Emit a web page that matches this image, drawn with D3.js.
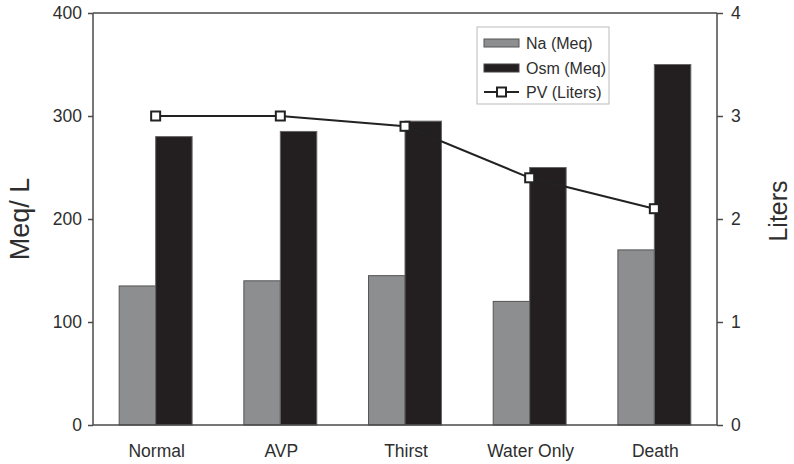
<!DOCTYPE html>
<html>
<head>
<meta charset="utf-8">
<script src="https://cdn.jsdelivr.net/npm/d3@7"></script>
<style>
  html, body { margin: 0; padding: 0; background: #fff; }
  svg { display: block; font-family: "Liberation Sans", Arial, sans-serif; }
</style>
</head>
<body>
<svg id="chart" width="794" height="464"></svg>
<script>
const categories = ["Normal", "AVP", "Thirst", "Water Only", "Death"];
const naValues = [135, 140, 145, 120, 170];
const osmValues = [280, 285, 295, 250, 350];
const pvValues = [3.0, 3.0, 2.9, 2.4, 2.1];
const leftTicks = [0, 100, 200, 300, 400];
const rightTicks = [0, 1, 2, 3, 4];
const seriesNames = ["Na (Meq)", "Osm (Meq)", "PV (Liters)"];

const svg = d3.select("#chart");
const m = { left: 93, right: 717, top: 13, bottom: 425 };

const x = d3.scaleBand().domain(categories).range([m.left, m.right])
  .paddingInner(0.415).paddingOuter(0.21);
const yL = d3.scaleLinear().domain([0, 400]).range([m.bottom, m.top]);
const yR = d3.scaleLinear().domain([0, 4]).range([m.bottom, m.top]);

const naFill = "#8d8e90", osmFill = "#231f20", axisCol = "#4a4a4a", textCol = "#2e2e2e";

// bars
const bw = x.bandwidth() / 2;
svg.append("g").selectAll("rect").data(categories).join("rect")
  .attr("x", d => x(d)).attr("width", bw)
  .attr("y", (d, i) => yL(naValues[i])).attr("height", (d, i) => yL(0) - yL(naValues[i]))
  .attr("fill", naFill).attr("stroke", "#555").attr("stroke-width", 1);
svg.append("g").selectAll("rect").data(categories).join("rect")
  .attr("x", d => x(d) + bw).attr("width", bw)
  .attr("y", (d, i) => yL(osmValues[i])).attr("height", (d, i) => yL(0) - yL(osmValues[i]))
  .attr("fill", osmFill).attr("stroke", "#666").attr("stroke-width", 1);

// axes
const gL = svg.append("g").attr("transform", `translate(${m.left},0)`)
  .call(d3.axisLeft(yL).tickValues(leftTicks).tickFormat(d3.format("d")).tickSize(5).tickPadding(6));
const gR = svg.append("g").attr("transform", `translate(${m.right},0)`)
  .call(d3.axisRight(yR).tickValues(rightTicks).tickFormat(d3.format("d")).tickSize(6).tickPadding(8));
[gL, gR].forEach(g => {
  g.select(".domain").attr("stroke", axisCol).attr("stroke-width", 1.5).attr("d",
    `M0,${m.top}V${m.bottom}`);
  g.selectAll(".tick line").attr("stroke", axisCol).attr("stroke-width", 1.5);
  g.selectAll(".tick text").attr("fill", textCol).attr("font-size", 17.5)
    .attr("font-family", "Liberation Sans, Arial, sans-serif");
});
// top & bottom frame
svg.append("line").attr("x1", m.left).attr("x2", m.right).attr("y1", m.top).attr("y2", m.top)
  .attr("stroke", axisCol).attr("stroke-width", 1.5);
svg.append("line").attr("x1", m.left).attr("x2", m.right).attr("y1", m.bottom).attr("y2", m.bottom)
  .attr("stroke", axisCol).attr("stroke-width", 1.5);

// category labels
svg.append("g").selectAll("text").data(categories).join("text")
  .attr("x", d => x(d) + x.bandwidth() / 2 + 1).attr("y", 457)
  .attr("text-anchor", "middle").attr("font-size", 17.5).attr("fill", textCol)
  .text(d => d);

// PV line
const line = d3.line().x(d => x(d) + bw).y((d, i) => yR(pvValues[i]));
svg.append("path").datum(categories).attr("d", line)
  .attr("fill", "none").attr("stroke", "#222").attr("stroke-width", 2);
svg.append("g").selectAll("rect").data(categories).join("rect")
  .attr("x", d => x(d) + bw - 4.5).attr("y", (d, i) => yR(pvValues[i]) - 4.5)
  .attr("width", 9).attr("height", 9)
  .attr("fill", "#fff").attr("stroke", "#222").attr("stroke-width", 2);

// axis titles
svg.append("text").attr("transform", `translate(29,${(m.top + m.bottom) / 2}) rotate(-90)`)
  .attr("text-anchor", "middle").attr("font-size", 27).attr("fill", textCol).text("Meq/ L");
svg.append("text").attr("transform", `translate(787,${(m.top + m.bottom) / 2 - 8}) rotate(-90)`)
  .attr("text-anchor", "middle").attr("font-size", 25).attr("fill", textCol).text("Liters");

// legend
const lg = svg.append("g").attr("transform", "translate(477,27)");
lg.append("rect").attr("width", 132).attr("height", 77).attr("fill", "#fff")
  .attr("stroke", "#bbb").attr("stroke-width", 1);
const rows = [16, 41, 65];
lg.append("rect").attr("x", 7).attr("y", rows[0] - 4).attr("width", 35).attr("height", 8)
  .attr("fill", naFill).attr("stroke", "#555");
lg.append("rect").attr("x", 7).attr("y", rows[1] - 4).attr("width", 35).attr("height", 8)
  .attr("fill", osmFill).attr("stroke", "#444");
lg.append("line").attr("x1", 7).attr("x2", 42).attr("y1", rows[2]).attr("y2", rows[2])
  .attr("stroke", "#222").attr("stroke-width", 2);
lg.append("rect").attr("x", 20).attr("y", rows[2] - 4.5).attr("width", 9).attr("height", 9)
  .attr("fill", "#fff").attr("stroke", "#222").attr("stroke-width", 2);
lg.selectAll("text.leg").data(seriesNames).join("text").attr("class", "leg")
  .attr("x", 49).attr("y", (d, i) => rows[i]).attr("dy", "0.35em")
  .attr("font-size", 16).attr("fill", textCol).text(d => d);
</script>
</body>
</html>
